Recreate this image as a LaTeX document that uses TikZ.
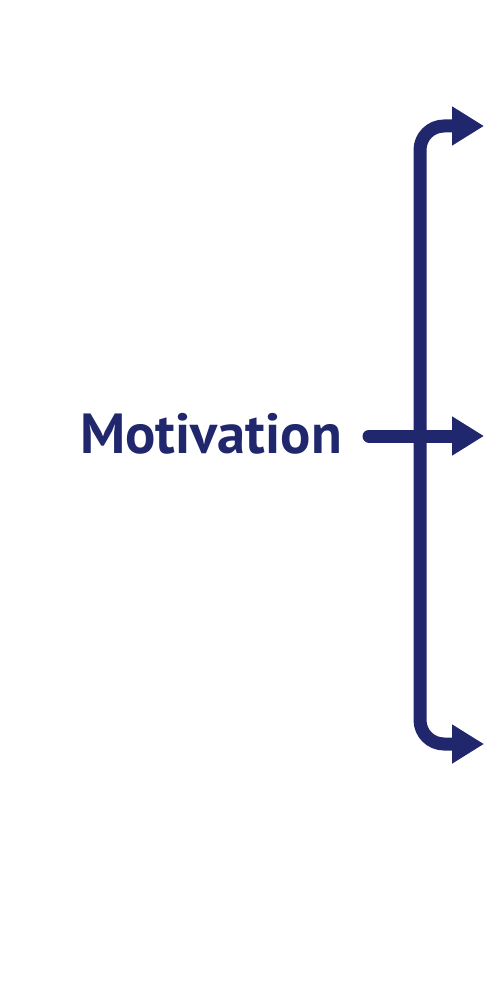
\documentclass[tikz,border=0pt]{standalone}
\usepackage{fontspec}
\setmainfont{PT Sans}
\usetikzlibrary{arrows.meta}
\definecolor{navy}{RGB}{33,39,108}
\tikzset{
  branch/.style={draw=navy, line width=13pt, rounded corners=24pt},
  head/.style={-{Triangle[length=32pt,width=37pt]}}
}
\begin{document}
\begin{tikzpicture}[x=1pt,y=-1pt]
  \useasboundingbox (0,0) rectangle (499,981);
  % Label
  \node[anchor=base east, inner sep=0pt, text=navy, font=\bfseries\fontsize{56.5}{60}\selectfont] (motiv) at (342,453) {Motivation};

  % Tips and spine
  \coordinate (topTip) at (484,126);
  \coordinate (midTip) at (484,436);
  \coordinate (botTip) at (484,744);
  \coordinate (spineBot) at (420,744);
  \coordinate (midStart) at (369,436);

  % Bracket with its three arrows
  \draw[branch, {Triangle[length=32pt,width=37pt]}-{Triangle[length=32pt,width=37pt]}] (topTip) -| (spineBot) -- (botTip);
  \draw[branch, head, line cap=round] (midStart) -- (midTip); % middle arrow
\end{tikzpicture}
\end{document}
